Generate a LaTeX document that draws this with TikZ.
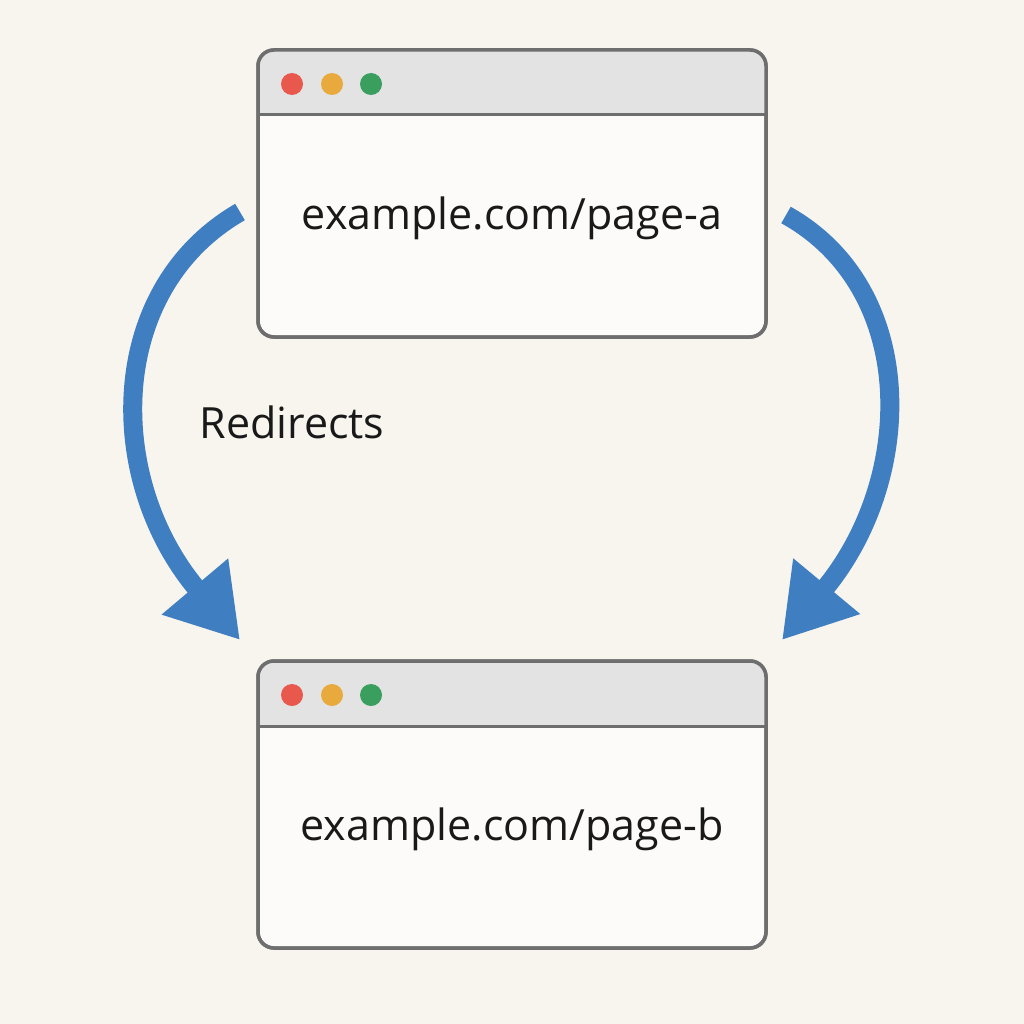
\documentclass[tikz,border=0pt]{standalone}
\usepackage{fontspec}
\setmainfont{Open Sans}
\usetikzlibrary{arrows.meta}
\definecolor{bg}{HTML}{F8F5EF}
\definecolor{bar}{HTML}{E3E3E3}
\definecolor{frame}{HTML}{6E6E6E}
\definecolor{arr}{HTML}{3F7EC1}
\definecolor{dr}{HTML}{E8584C}
\definecolor{dy}{HTML}{E8A93D}
\definecolor{dg}{HTML}{3A9E5E}
\begin{document}
\begin{tikzpicture}[x=1pt,y=-1pt,
  win/.style={draw=frame,line width=3.5pt,rounded corners=16pt,fill=white!60!bg,minimum width=508pt,minimum height=287pt},
  redir/.style={draw=arr,line width=19pt,-{Triangle[width=82pt,length=70pt]}},
  lbl/.style={font=\fontsize{43}{50}\selectfont,text=black!90}]
\fill[bg] (0,0) rectangle (1024,1024);
\useasboundingbox (0,0) rectangle (1024,1024);
\foreach \n/\y/\t in {A/50/a,B/661/b}{
  \node[win] (\n) at (512,\y+143.5) {};
  \begin{scope}
    \clip[rounded corners=16pt] (258,\y) rectangle (766,\y+287);
    \fill[bar] (258,\y) rectangle (766,\y+65);
  \end{scope}
  \draw[frame,line width=3pt] (258,\y+65) -- (766,\y+65);
  \draw[win,fill=none] (258,\y) rectangle (766,\y+287);
  \fill[dr] (292,\y+34) circle (11);
  \fill[dy] (332,\y+34) circle (11);
  \fill[dg] (371,\y+34) circle (11);
  \node[lbl] (t\n) at (512,\y+168) {example.com/page-\t};
}
\coordinate (la) at (240,212);
\coordinate (lb) at (240,640);
\coordinate (ra) at (786,215);
\coordinate (rb) at (782,640);
\draw[redir] (la) .. controls (105,290) and (105,480) .. (lb);
\draw[redir] (ra) .. controls (920,290) and (915,480) .. (rb);
\node[lbl] (r) at (292,422) {Redirects};
\end{tikzpicture}
\end{document}
